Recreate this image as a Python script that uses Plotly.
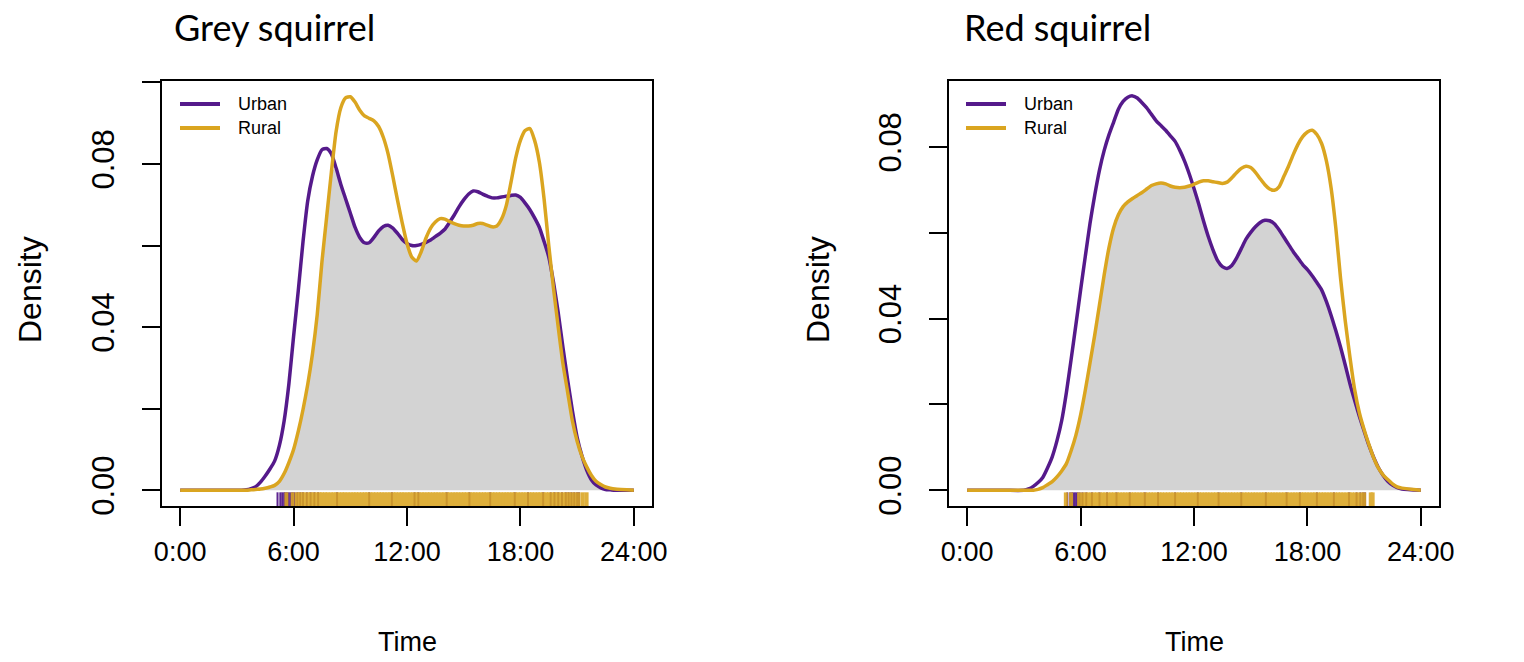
import numpy as np
import plotly.graph_objects as go

# ---------------- data ----------------
hours = [0, 1, 2,
         3.0, 3.25, 3.5, 3.75, 4.0, 4.25, 4.5, 4.75, 5.0, 5.25, 5.5, 5.75,
         6.0, 6.25, 6.5, 6.75, 7.0, 7.25, 7.5, 7.75, 8.0, 8.25, 8.5, 8.75,
         9.0, 9.25, 9.5, 9.75, 10.0, 10.25, 10.5, 10.75, 11.0, 11.25, 11.5, 11.75,
         12.0, 12.25, 12.5, 12.75, 13.0, 13.25, 13.5, 13.75, 14.0, 14.25, 14.5, 14.75,
         15.0, 15.25, 15.5, 15.75, 16.0, 16.25, 16.5, 16.75, 17.0, 17.25, 17.5, 17.75,
         18.0, 18.25, 18.5, 18.75, 19.0, 19.25, 19.5, 19.75, 20.0, 20.25, 20.5, 20.75,
         21.0, 21.25, 21.5, 21.75, 22.0, 22.25, 22.5, 22.75, 23.0,
         24]

grey_urban = [0, 0, 0,
              0, 0, 0.0001, 0.0004, 0.0009, 0.002, 0.0035, 0.0052, 0.0072, 0.011, 0.017, 0.026,
              0.0377, 0.049, 0.061, 0.071, 0.077, 0.081, 0.0835, 0.0838, 0.0825, 0.079, 0.075, 0.0715,
              0.068, 0.0645, 0.062, 0.0607, 0.0607, 0.062, 0.0636, 0.0647, 0.065, 0.0643, 0.063, 0.0615,
              0.0605, 0.060, 0.060, 0.0603, 0.0608, 0.0614, 0.0622, 0.063, 0.064, 0.0657, 0.0675, 0.0695,
              0.0712, 0.0726, 0.0734, 0.0732, 0.0726, 0.0721, 0.0717, 0.0717, 0.0719, 0.0721, 0.0723, 0.0724,
              0.0718, 0.0704, 0.0688, 0.0668, 0.0645, 0.061, 0.0572, 0.051, 0.0435, 0.035, 0.027, 0.0195,
              0.013, 0.0085, 0.005, 0.0026, 0.0013, 0.0006, 0.0002, 0.0001, 0,
              0]

grey_rural = [0, 0, 0,
              0, 0, 0, 0.0001, 0.0002, 0.0003, 0.0005, 0.0008, 0.0012, 0.0022, 0.0041, 0.0068,
              0.010, 0.0145, 0.0198, 0.026, 0.0335, 0.043, 0.056, 0.067, 0.078, 0.088, 0.0938, 0.0962,
              0.0965, 0.0952, 0.0932, 0.0918, 0.0912, 0.0906, 0.0892, 0.0865, 0.0825, 0.077, 0.0711, 0.0655,
              0.0605, 0.0572, 0.0562, 0.0585, 0.0618, 0.0643, 0.0658, 0.0666, 0.0665, 0.0659, 0.0654, 0.065,
              0.0648, 0.0648, 0.065, 0.0654, 0.0654, 0.065, 0.0646, 0.0648, 0.0665, 0.0698, 0.0755, 0.0815,
              0.0858, 0.0882, 0.0887, 0.0858, 0.0805, 0.0715, 0.060, 0.0495, 0.040, 0.031, 0.024, 0.017,
              0.012, 0.0084, 0.0058, 0.0037, 0.0022, 0.0014, 0.0008, 0.0005, 0.0003,
              0]

red_urban = [0, 0, 0,
             0, 0.0003, 0.0009, 0.0018, 0.003, 0.0052, 0.0078, 0.0115, 0.0162, 0.0228, 0.0305, 0.0385,
             0.0466, 0.0545, 0.0622, 0.0688, 0.0746, 0.0792, 0.0828, 0.0858, 0.0888, 0.0906, 0.0916, 0.0919,
             0.0914, 0.0903, 0.0891, 0.0876, 0.0861, 0.085, 0.0839, 0.0826, 0.0813, 0.0792, 0.0767, 0.0737,
             0.0703, 0.0667, 0.0628, 0.0592, 0.0561, 0.0535, 0.0521, 0.0517, 0.0524, 0.0541, 0.0563, 0.0585,
             0.0601, 0.0614, 0.0624, 0.0629, 0.0628, 0.0621, 0.0607, 0.059, 0.0573, 0.0556, 0.0541, 0.0526,
             0.0514, 0.05, 0.0484, 0.0467, 0.044, 0.0408, 0.0372, 0.0334, 0.0292, 0.0248, 0.0209, 0.0172,
             0.0138, 0.0105, 0.0077, 0.0053, 0.0035, 0.0021, 0.0012, 0.0006, 0.0003,
             0]

red_rural = [0, 0, 0,
             0, 0, 0, 0.0002, 0.0006, 0.0013, 0.002, 0.0031, 0.0045, 0.0062, 0.0092, 0.0128,
             0.0175, 0.0233, 0.0297, 0.0362, 0.0432, 0.0502, 0.0565, 0.0612, 0.0642, 0.0661, 0.0672, 0.068,
             0.0687, 0.0694, 0.0702, 0.071, 0.0714, 0.0716, 0.0714, 0.0709, 0.0706, 0.0705, 0.0706, 0.0709,
             0.0713, 0.0718, 0.0721, 0.0721, 0.0719, 0.0717, 0.0715, 0.0718, 0.0728, 0.074, 0.075, 0.0755,
             0.0752, 0.0741, 0.0726, 0.0712, 0.0702, 0.0699, 0.0707, 0.0731, 0.0755, 0.0782, 0.0806, 0.0824,
             0.0835, 0.0839, 0.0829, 0.0808, 0.0768, 0.0705, 0.0612, 0.0495, 0.0395, 0.031, 0.0234, 0.018,
             0.0141, 0.0107, 0.0076, 0.0052, 0.0036, 0.0025, 0.0015, 0.0008, 0.0005,
             0]

# observation times (rug), hours
grey_urban_obs = [5.15, 5.3, 5.4, 5.5, 5.56, 5.65, 5.75, 5.85, 5.95, 6.05, 6.2, 6.35, 6.5, 6.7,
                  6.9, 7.1, 7.3, 8.3, 10.0, 11.2, 12.4, 12.6, 14.1, 15.3, 16.4, 17.7, 18.4, 19.2,
                  19.6, 19.8, 20.0, 20.2, 20.4, 20.55, 20.7, 20.85, 21.0, 21.1]
grey_rural_obs = [5.62, 5.95, 6.18, 6.33, 6.47, 6.6, 6.78, 6.91, 7.06, 7.22, 7.37, 7.5, 7.66, 7.8,
                  7.97, 8.12, 8.26, 8.41, 8.57, 8.7, 8.86, 9.02, 9.17, 9.31, 9.46, 9.62, 9.77, 9.9,
                  10.06, 10.21, 10.36, 10.52, 10.66, 10.81, 10.97, 11.12, 11.28, 11.41, 11.57, 11.72,
                  11.86, 12.03, 12.17, 12.33, 12.47, 12.62, 12.78, 12.92, 13.08, 13.21, 13.37, 13.52,
                  13.66, 13.82, 13.97, 14.12, 14.26, 14.42, 14.57, 14.71, 14.87, 15.02, 15.16, 15.32,
                  15.47, 15.61, 15.77, 15.92, 16.07, 16.21, 16.37, 16.52, 16.66, 16.82, 16.96, 17.12,
                  17.27, 17.41, 17.57, 17.71, 17.86, 18.02, 18.16, 18.31, 18.47, 18.61, 18.76, 18.92,
                  19.06, 19.21, 19.36, 19.51, 19.67, 19.82, 19.96, 20.12, 20.27, 20.43, 20.58, 20.74,
                  20.9, 21.08, 21.3, 21.5]
red_urban_obs = [5.3, 5.45, 5.55, 5.62, 5.7, 5.78, 5.85, 5.95, 6.1, 6.3, 6.6, 7.0, 7.4, 7.9, 8.6,
                 9.4, 10.1, 11.0, 12.2, 13.3, 14.5, 15.8, 16.9, 17.6, 18.5, 19.4, 20.2, 20.6, 20.8,
                 20.95, 21.05]
red_rural_obs = [5.22, 5.5, 5.92, 6.12, 6.27, 6.41, 6.57, 6.72, 6.86, 7.02, 7.17, 7.31, 7.47, 7.62,
                 7.76, 7.92, 8.07, 8.22, 8.36, 8.52, 8.67, 8.82, 8.96, 9.12, 9.27, 9.41, 9.57, 9.72,
                 9.86, 10.02, 10.17, 10.31, 10.47, 10.62, 10.77, 10.91, 11.07, 11.22, 11.36, 11.52,
                 11.67, 11.81, 11.97, 12.12, 12.27, 12.41, 12.57, 12.71, 12.86, 13.02, 13.16, 13.31,
                 13.47, 13.62, 13.76, 13.92, 14.06, 14.22, 14.37, 14.51, 14.67, 14.81, 14.96, 15.12,
                 15.26, 15.41, 15.57, 15.71, 15.86, 16.02, 16.16, 16.31, 16.46, 16.62, 16.77, 16.91,
                 17.06, 17.22, 17.36, 17.51, 17.67, 17.81, 17.96, 18.11, 18.27, 18.41, 18.56, 18.72,
                 18.86, 19.01, 19.17, 19.31, 19.46, 19.62, 19.76, 19.91, 20.07, 20.22, 20.36, 20.52,
                 20.67, 20.86, 21.0, 21.35, 21.45]

series_names = ["Urban", "Rural"]
time_tickvals = [0, 6, 12, 18, 24]
time_ticktext = ["0:00", "6:00", "12:00", "18:00", "24:00"]
dens_tickvals = [0, 0.02, 0.04, 0.06, 0.08, 0.10]
dens_ticktext = ["0.00", "", "0.04", "", "0.08", ""]

panels = [
    dict(title="Grey squirrel", urban=grey_urban, rural=grey_rural,
         urban_obs=grey_urban_obs, rural_obs=grey_rural_obs, ymax=0.0965),
    dict(title="Red squirrel", urban=red_urban, rural=red_rural,
         urban_obs=red_urban_obs, rural_obs=red_rural_obs, ymax=0.0917),
]

# ---------------- style ----------------
PURPLE = "#551A8B"
GOLD = "#DAA520"
FILL = "#D3D3D3"
AXFONT = "Liberation Sans, Arial, sans-serif"
TITLEFONT = "Lato, Open Sans, sans-serif"

W, H = 1524, 662
ML, MR, MT, MB = 162, 85, 81, 156
PW = W - ML - MR
PH = H - MT - MB
left_dom = [0, 490 / PW]
right_dom = [(949 - 162) / PW, 1]


def px_x(X):
    return (X - ML) / PW


def px_y(Y):
    return (MT + PH - Y) / PH


def rug(times, y0, y1):
    xs, ys = [], []
    for t in times:
        xs += [t, t, None]
        ys += [y0, y1, None]
    return xs, ys


fig = go.Figure()
xr = [-0.96, 24.96]
LW = 3.5

for i, p in enumerate(panels):
    xa = "x" if i == 0 else "x2"
    ya = "y" if i == 0 else "y2"
    ylo = -0.04 * p["ymax"]
    u = np.array(p["urban"])
    r = np.array(p["rural"])
    fig.add_trace(go.Scatter(x=hours, y=np.minimum(u, r), mode="lines", fill="tozeroy",
                             fillcolor=FILL, line=dict(width=0, shape="spline", smoothing=0.6),
                             xaxis=xa, yaxis=ya, showlegend=False, hoverinfo="skip"))
    fig.add_trace(go.Scatter(x=hours, y=u, mode="lines", name=series_names[0],
                             line=dict(color=PURPLE, width=LW, shape="spline", smoothing=0.6),
                             xaxis=xa, yaxis=ya, showlegend=False))
    fig.add_trace(go.Scatter(x=hours, y=r, mode="lines", name=series_names[1],
                             line=dict(color=GOLD, width=LW, shape="spline", smoothing=0.6),
                             xaxis=xa, yaxis=ya, showlegend=False))
    rx, ry = rug(p["urban_obs"], ylo, -0.0005)
    fig.add_trace(go.Scatter(x=rx, y=ry, mode="lines", line=dict(color=PURPLE, width=2),
                             opacity=0.95, xaxis=xa, yaxis=ya, showlegend=False, hoverinfo="skip"))
    rx, ry = rug(p["rural_obs"], ylo, -0.0005)
    fig.add_trace(go.Scatter(x=rx, y=ry, mode="lines", line=dict(color=GOLD, width=4),
                             opacity=0.88, xaxis=xa, yaxis=ya, showlegend=False, hoverinfo="skip"))

axis_common = dict(showline=True, mirror=True, linecolor="black", linewidth=1.5,
                   ticks="outside", ticklen=18, tickwidth=1.5, tickcolor="black",
                   showgrid=False, zeroline=False, fixedrange=True)

xaxis_cfg = dict(axis_common, range=xr, tickvals=time_tickvals, ticktext=time_ticktext,
                 tickfont=dict(family=AXFONT, size=27, color="black"), ticklabelstandoff=3)
yaxis_cfg = dict(axis_common, tickvals=dens_tickvals, ticktext=dens_ticktext, tickangle=-90,
                 tickfont=dict(family=AXFONT, size=31, color="black"), ticklabelstandoff=16)

fig.update_layout(
    width=W, height=H,
    margin=dict(l=ML, r=MR, t=MT, b=MB, autoexpand=False),
    paper_bgcolor="white", plot_bgcolor="white",
    xaxis=dict(xaxis_cfg, domain=left_dom, anchor="y"),
    yaxis=dict(yaxis_cfg, range=[-0.04 * panels[0]["ymax"], 1.04 * panels[0]["ymax"]], anchor="x"),
    xaxis2=dict(xaxis_cfg, domain=right_dom, anchor="y2"),
    yaxis2=dict(yaxis_cfg, range=[-0.04 * panels[1]["ymax"], 1.04 * panels[1]["ymax"]], anchor="x2"),
    showlegend=False,
)

ann = []
shapes = []
for i, (t, lx, dx, legx) in enumerate([("Grey squirrel", 172, 30, 180),
                                        ("Red squirrel", 962, 818, 966)]):
    dom = left_dom if i == 0 else right_dom
    ann.append(dict(text=t, xref="paper", yref="paper", x=px_x(lx), y=px_y(27),
                    xanchor="left", yanchor="middle", showarrow=False,
                    font=dict(family=TITLEFONT, size=36, color="black")))
    ann.append(dict(text="Time", xref="paper", yref="paper", x=(dom[0] + dom[1]) / 2,
                    y=px_y(642), xanchor="center", yanchor="middle", showarrow=False,
                    font=dict(family=AXFONT, size=27, color="black")))
    ann.append(dict(text="Density", xref="paper", yref="paper", x=px_x(dx),
                    y=px_y(290), xanchor="center", yanchor="middle", textangle=-90,
                    showarrow=False, font=dict(family=AXFONT, size=32, color="black")))
    # legend (inset, top-left)
    for name, col, ly in [(series_names[0], PURPLE, 104), (series_names[1], GOLD, 128)]:
        shapes.append(dict(type="line", xref="paper", yref="paper",
                           x0=px_x(legx), x1=px_x(legx + 40), y0=px_y(ly), y1=px_y(ly),
                           line=dict(color=col, width=4)))
        ann.append(dict(text=name, xref="paper", yref="paper", x=px_x(legx + 56), y=px_y(ly),
                        xanchor="left", yanchor="middle", showarrow=False,
                        font=dict(family=AXFONT, size=18, color="black")))
fig.update_layout(annotations=ann, shapes=shapes)

fig.write_html("out.html", config={"displayModeBar": False},
               post_script="document.body.style.margin='0';document.body.style.overflow='hidden';")
